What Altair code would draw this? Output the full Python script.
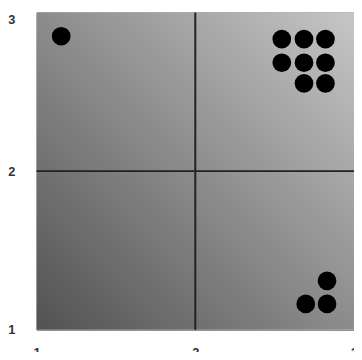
import altair as alt
import pandas as pd

# point data
xs = [1.155, 2.545, 2.685, 2.82, 2.545, 2.685, 2.82, 2.685, 2.82, 2.83, 2.696, 2.83]
ys = [2.85, 2.832, 2.832, 2.832, 2.683, 2.683, 2.683, 2.553, 2.553, 1.309, 1.163, 1.163]

# quadrant dividers
vlines = [2]
hlines = [2]

# background extent
bg_x = [1]
bg_x2 = [3]
bg_y = [1]
bg_y2 = [3]

ticks = [1, 2, 3]

pts = pd.DataFrame({"x": xs, "y": ys})
bg = pd.DataFrame({"x": bg_x, "x2": bg_x2, "y": bg_y, "y2": bg_y2})
vl = pd.DataFrame({"v": vlines})
hl = pd.DataFrame({"h": hlines})

xscale = alt.Scale(domain=[1, 3], nice=False, zero=False)
yscale = alt.Scale(domain=[1, 3], nice=False, zero=False)

xaxis = alt.Axis(values=ticks, format=".0f", title=None, grid=False, ticks=False, domain=False,
                 labelPadding=17, labelFont="Liberation Sans", labelFontWeight="bold",
                 labelFontSize=13, labelColor="#333333", labelFlush=False,
                 labelOverlap=False, labelBound=False)
yaxis = alt.Axis(values=ticks, format=".0f", title=None, grid=False, ticks=False, domain=False,
                 labelPadding=22, labelFont="Liberation Sans", labelFontWeight="bold",
                 labelFontSize=13, labelColor="#333333", labelFlush=False,
                 labelOverlap=False, labelBound=False,
                 labelOffset={"condition": {"test": "datum.value == 3", "value": 7},
                              "value": 0})

grad = alt.Gradient(
    gradient="linear",
    stops=[alt.GradientStop(color="#525252", offset=0),
           alt.GradientStop(color="#c6c6c6", offset=1)],
    x1=0, y1=1, x2=1, y2=0,
)

background = alt.Chart(bg).mark_rect(color=grad).encode(
    x=alt.X("x:Q", scale=xscale, axis=xaxis),
    x2="x2",
    y=alt.Y("y:Q", scale=yscale, axis=yaxis),
    y2="y2",
)

vrule = alt.Chart(vl).mark_rule(color="#222222", strokeWidth=2).encode(
    x=alt.X("v:Q", scale=xscale, axis=xaxis)
)
hrule = alt.Chart(hl).mark_rule(color="#222222", strokeWidth=2).encode(
    y=alt.Y("h:Q", scale=yscale, axis=yaxis)
)

points = alt.Chart(pts).mark_circle(color="black", opacity=1, size=360).encode(
    x=alt.X("x:Q", scale=xscale, axis=xaxis),
    y=alt.Y("y:Q", scale=yscale, axis=yaxis),
)

chart = alt.layer(background, vrule, hrule, points).properties(
    width=322, height=322,
    autosize=alt.AutoSizeParams(type="none"),
    padding={"left": 29, "top": 2, "right": 0, "bottom": 20},
).configure_view(stroke="#777777", strokeWidth=1)

chart.save("out.html", embed_options={"renderer": "svg", "actions": False})
